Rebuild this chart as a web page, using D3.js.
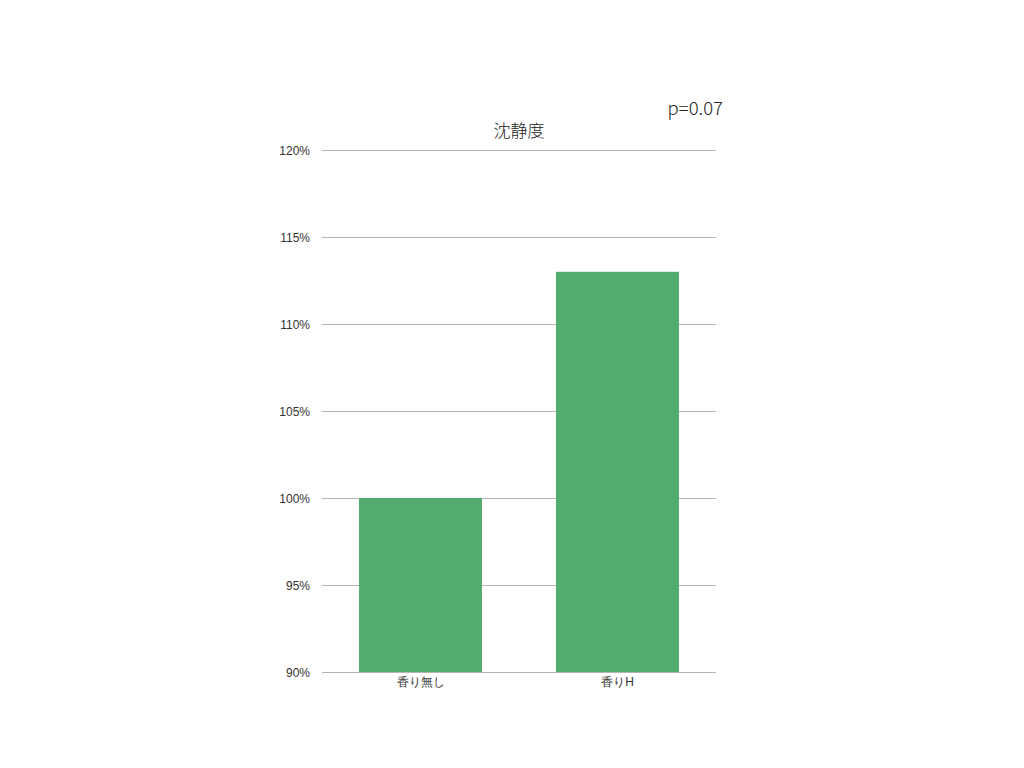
<!DOCTYPE html>
<html>
<head>
<meta charset="utf-8">
<script src="https://cdn.jsdelivr.net/npm/d3@7"></script>
<style>
	body { margin: 0; background: #fff; }
	svg { display: block; font-family: "Noto Sans CJK JP", "Noto Sans", sans-serif; }
	.tick text { fill: #333; }
</style>
</head>
<body>
<div id="chart"></div>
<script>
const categories = ["香り無し", "香りH"];
const values = [100, 113];
const yTicks = [90, 95, 100, 105, 110, 115, 120];
const title = "沈静度";
const note = "p=0.07";

const frame = { width: 1024, height: 768 };
const plot = { left: 322, right: 716, top: 150, bottom: 672 };

const svg = d3.select("#chart").append("svg")
	.attr("width", frame.width)
	.attr("height", frame.height);

const x = d3.scaleBand()
	.domain(categories)
	.range([plot.left, plot.right])
	.paddingInner(0.376)
	.paddingOuter(0.188);

const y = d3.scaleLinear()
	.domain([90, 120])
	.range([plot.bottom, plot.top]);

// gridlines
svg.append("g")
	.selectAll("line")
	.data(yTicks)
	.join("line")
	.attr("x1", plot.left)
	.attr("x2", plot.right)
	.attr("y1", d => y(d) + 0.5)
	.attr("y2", d => y(d) + 0.5)
	.attr("stroke", "#b4b4b4")
	.attr("stroke-width", 1);

// bars
svg.append("g")
	.selectAll("rect")
	.data(values)
	.join("rect")
	.attr("x", (d, i) => x(categories[i]))
	.attr("y", d => y(d))
	.attr("width", x.bandwidth())
	.attr("height", d => y(90) - y(d))
	.attr("fill", "#52ac6e");

// y axis labels
const yAxis = svg.append("g")
	.attr("transform", `translate(${plot.left - 12},0)`)
	.call(d3.axisLeft(y).tickValues(yTicks).tickSize(0).tickPadding(0).tickFormat(d => d + "%"));
yAxis.select(".domain").remove();
yAxis.selectAll("text")
	.attr("font-size", 12)
	.attr("font-weight", 300)
	.attr("dy", "0.35em");

// x axis labels
const xAxis = svg.append("g")
	.attr("transform", `translate(0,${plot.bottom})`)
	.call(d3.axisBottom(x).tickSize(0).tickPadding(5));
xAxis.select(".domain").remove();
xAxis.selectAll("text")
	.attr("font-size", 12)
	.attr("font-weight", 300);

// title
svg.append("text")
	.attr("x", (plot.left + plot.right) / 2)
	.attr("y", 137)
	.attr("text-anchor", "middle")
	.attr("font-size", 17)
	.attr("font-weight", 300)
	.attr("fill", "#222")
	.text(title);

svg.append("text")
	.attr("x", 723)
	.attr("y", 115)
	.attr("text-anchor", "end")
	.attr("font-size", 18.5)
	.attr("font-weight", 300)
	.attr("fill", "#222")
	.text(note);
</script>
</body>
</html>
